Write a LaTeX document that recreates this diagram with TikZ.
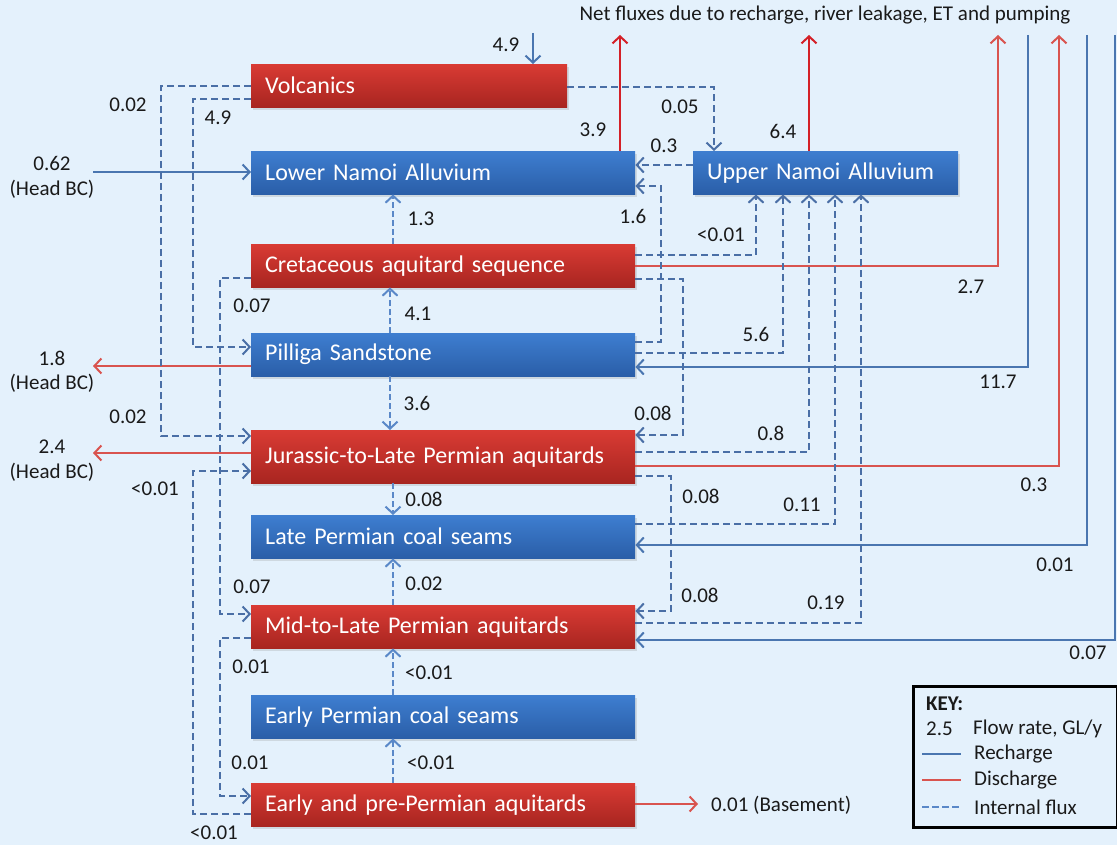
\documentclass[tikz,border=0pt]{standalone}
\usepackage{fontspec}
\setmainfont{Carlito}
\usetikzlibrary{arrows.meta,shadows}

\definecolor{bg}{HTML}{E4F1FC}
\definecolor{rTop}{HTML}{D93B34}
\definecolor{rBot}{HTML}{A82520}
\definecolor{bTop}{HTML}{3E7ED0}
\definecolor{bBot}{HTML}{2A5EA8}
\definecolor{fluxc}{HTML}{4A6FA6}
\definecolor{fluxv}{HTML}{5A88C8}
\definecolor{rechc}{HTML}{4A76B0}
\definecolor{disc}{HTML}{D9544F}
\definecolor{disstrong}{HTML}{D42027}
\definecolor{txt}{HTML}{1A1A1A}

\tikzset{
  layer/.style={anchor=north west, inner xsep=14pt, inner ysep=0pt, align=left,
    text=white, font=\fontsize{24}{28}\selectfont, minimum height=43pt,
    drop shadow={opacity=0.22, shadow xshift=1.5pt, shadow yshift=-3pt}},
  redlayer/.style={layer, top color=rTop, bottom color=rBot},
  bluelayer/.style={layer, top color=bTop, bottom color=bBot},
  tip/.tip={Straight Barb[length=7pt,width=15pt,line width=2pt]},
  flux/.style={draw=fluxc, line width=2.2pt, dash pattern=on 7pt off 4pt, -tip},
  vflux/.style={flux, draw=fluxv, dash pattern=on 6pt off 3pt},
  rech/.style={draw=rechc, line width=2pt, -tip},
  dis/.style={draw=disc, line width=2pt, -tip},
  disS/.style={draw=disstrong, line width=2.8pt, -tip},
  val/.style={text=txt, font=\fontsize{21}{25}\selectfont, inner sep=0pt},
  keyline/.style={line width=2pt},
}

\begin{document}
\begin{tikzpicture}[x=1pt,y=-1pt]
\fill[bg] (0,0) rectangle (1117,845);
\useasboundingbox (0,0) rectangle (1117,845);

% ---- layers ----
\node[redlayer,  text width=288pt] (volc) at (251,64)  {Volcanics};
\node[bluelayer, text width=356pt] (lna)  at (251,151) {Lower Namoi Alluvium};
\node[bluelayer, text width=237pt] (una)  at (693,151) {Upper Namoi Alluvium};
\node[redlayer,  text width=356pt] (cret) at (251,244) {Cretaceous aquitard sequence};
\node[bluelayer, text width=356pt] (pil)  at (251,333) {Pilliga Sandstone};
\node[redlayer,  text width=356pt, minimum height=53pt] (jur) at (251,430) {Jurassic-to-Late Permian aquitards};
\node[bluelayer, text width=356pt] (lpc)  at (251,515) {Late Permian coal seams};
\node[redlayer,  text width=356pt] (mid)  at (251,605) {Mid-to-Late Permian aquitards};
\node[bluelayer, text width=356pt] (epc)  at (251,695) {Early Permian coal seams};
\node[redlayer,  text width=356pt] (epre) at (251,783) {Early and pre-Permian aquitards};

% ---- free ends ----
\coordinate (rainV) at (533,33);
\coordinate (topLNA) at (620,35);
\coordinate (topUNA) at (809,35);
\coordinate (top27) at (998,35);
\coordinate (top117) at (1028,35);
\coordinate (top03) at (1059,35);
\coordinate (top001) at (1087,35);
\coordinate (top007) at (1115,35);
\coordinate (bcIn) at (93,172);
\coordinate (bcPil) at (93,366);
\coordinate (bcJur) at (93,453);
\coordinate (base) at (698,804);

% ---- net fluxes ----
\node[val] (title) at (825,15) {Net fluxes due to recharge, river leakage, ET and pumping};
\draw[rech] (rainV) -- (rainV |- volc.north);
\draw[disS] (lna.north -| topLNA) -- (topLNA);
\draw[disS] (una.north -| topUNA) -- (topUNA);
\draw[dis] (cret.east |- 0,266) -| (top27);
\draw[dis] (jur.east |- 0,466) -| (top03);
\draw[rech] (top117) |- (pil.east |- 0,367);
\draw[rech] (top001) |- (lpc.east |- 0,545);
\draw[rech] (top007) |- (mid.east |- 0,640);

% ---- head boundary conditions ----
\draw[rech] (bcIn) -- (lna.west |- bcIn);
\draw[dis] (pil.west |- bcPil) -- (bcPil);
\draw[dis] (jur.west |- bcJur) -- (bcJur);
\draw[dis] (epre.east |- base) -- (base);

% ---- internal fluxes ----
\draw[flux] (volc.west |- 0,86) -| (161,436) -- (jur.west |- 0,436);
\draw[flux] (volc.west |- 0,99) -| (193,347) -- (pil.west |- 0,347);
\draw[flux] (volc.east |- 0,87) -| (una.north -| 714,0);
\draw[flux] (una.west |- 0,165) -- (lna.east |- 0,165);
\draw[vflux] (cret.north -| 393,0) -- (lna.south -| 393,0);
\draw[flux] (pil.east |- 0,342) -| (661,186) -- (lna.east |- 0,186);
\draw[flux] (cret.east |- 0,255) -| (una.south -| 756,0);
\draw[flux] (cret.east |- 0,279) -| (683,435) -- (jur.east |- 0,435);
\draw[flux] (cret.west |- 0,278) -| (220,614) -- (mid.west |- 0,614);
\draw[vflux] (pil.north -| 390,0) -- (cret.south -| 390,0);
\draw[flux] (pil.east |- 0,353) -| (una.south -| 783,0);
\draw[vflux] (pil.south -| 390,0) -- (jur.north -| 390,0);
\draw[flux] (epre.west |- 0,814) -| (193,471) -- (jur.west |- 0,471);
\draw[flux] (jur.east |- 0,452) -| (una.south -| 809,0);
\draw[vflux] (jur.south -| 393,0) -- (lpc.north -| 393,0);
\draw[flux] (jur.east |- 0,476) -| (671,611) -- (mid.east |- 0,611);
\draw[flux] (lpc.east |- 0,524) -| (una.south -| 835,0);
\draw[vflux] (mid.north -| 393,0) -- (lpc.south -| 393,0);
\draw[flux] (mid.east |- 0,623) -| (una.south -| 861,0);
\draw[flux] (mid.west |- 0,638) -| (220,796) -- (epre.west |- 0,796);
\draw[vflux] (epc.north -| 393,0) -- (mid.south -| 393,0);
\draw[vflux] (epre.north -| 393,0) -- (epc.south -| 393,0);

% ---- flow values ----
\node[val] at (506,45) {4.9};
\node[val] at (128,105) {0.02};
\node[val] at (218,118) {4.9};
\node[val] at (52,163) {0.62};
\node[val] at (52,189) {(Head BC)};
\node[val] at (421,219) {1.3};
\node[val] at (680,107) {0.05};
\node[val] at (593,130) {3.9};
\node[val] at (664,146) {0.3};
\node[val] at (783,131) {6.4};
\node[val] at (633,216) {1.6};
\node[val] at (721,235) {<0.01};
\node[val] at (971,287) {2.7};
\node[val] at (252,306) {0.07};
\node[val] at (418,314) {4.1};
\node[val] at (52,358) {1.8};
\node[val] at (52,383) {(Head BC)};
\node[val] at (417,403) {3.6};
\node[val] at (128,417) {0.02};
\node[val] at (52,447) {2.4};
\node[val] at (52,472) {(Head BC)};
\node[val] at (155,489) {<0.01};
\node[val] at (424,499) {0.08};
\node[val] at (756,334) {5.6};
\node[val] at (998,382) {11.7};
\node[val] at (653,413) {0.08};
\node[val] at (771,433) {0.8};
\node[val] at (1034,485) {0.3};
\node[val] at (701,496) {0.08};
\node[val] at (802,505) {0.11};
\node[val] at (1055,565) {0.01};
\node[val] at (252,587) {0.07};
\node[val] at (424,584) {0.02};
\node[val] at (251,667) {0.01};
\node[val] at (429,673) {<0.01};
\node[val] at (250,763) {0.01};
\node[val] at (431,763) {<0.01};
\node[val] at (214,833) {<0.01};
\node[val] at (700,595) {0.08};
\node[val] at (826,603) {0.19};
\node[val] at (1088,653) {0.07};
\node[val, anchor=west] at (711,805) {0.01 (Basement)};

% ---- key ----
\node[draw=black, line width=3pt, anchor=north west, minimum width=204pt,
      minimum height=141pt, inner sep=0pt] (key) at (912,685) {};
\node[val, anchor=west, font=\fontsize{21}{25}\selectfont\bfseries] at (926,704) {KEY:};
\node[val, anchor=west] at (926,729) {2.5};
\node[val, anchor=west] at (973,729) {Flow rate, GL/y};
\coordinate (kR1) at (922,754); \coordinate (kR2) at (961,754);
\coordinate (kD1) at (922,780); \coordinate (kD2) at (961,780);
\coordinate (kF1) at (922,807); \coordinate (kF2) at (961,807);
\draw[rechc, keyline] (kR1) -- (kR2);
\draw[disc, keyline] (kD1) -- (kD2);
\draw[fluxv, keyline, dash pattern=on 7pt off 3pt] (kF1) -- (kF2);
\node[val, anchor=west] at (974,754) {Recharge};
\node[val, anchor=west] at (974,780) {Discharge};
\node[val, anchor=west] at (974,807) {Internal flux};
\end{tikzpicture}
\end{document}
